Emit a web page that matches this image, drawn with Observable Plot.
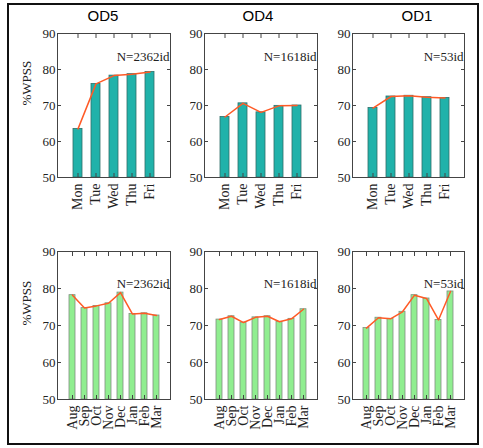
<!DOCTYPE html>
<html>
<head>
<meta charset="utf-8">
<script src="https://cdn.jsdelivr.net/npm/d3@7"></script>
<script src="https://cdn.jsdelivr.net/npm/@observablehq/plot@0.6"></script>
<style>
  html, body { margin: 0; padding: 0; background: #fff; }
  #fig { position: relative; width: 483px; height: 448px; overflow: hidden; background: #fff; }
  #border { position: absolute; left: 7px; top: 3px; width: 472px; height: 442px; border: 2px solid #111; box-sizing: border-box; }
  .panel { position: absolute; }
  .panel svg, .panel svg text, .panel svg g { font-family: "Liberation Serif", "Times New Roman", serif !important; }
  .title { position: absolute; font-family: "Liberation Sans", Arial, sans-serif; font-size: 15px; font-weight: normal; color: #000; transform: translateX(-50%); white-space: nowrap; }
</style>
</head>
<body>
<div id="fig"><div id="border"></div></div>
<script>
// ---- data ----
const weekdays = ["Mon", "Tue", "Wed", "Thu", "Fri"];
const months = ["Aug", "Sep", "Oct", "Nov", "Dec", "Jan", "Feb", "Mar"];
const groups = ["OD5", "OD4", "OD1"];
const counts = ["N=2362id", "N=1618id", "N=53id"];
const yTicks = [50, 60, 70, 80, 90];
const od5Week = [63.5, 76.0, 78.3, 78.7, 79.3];
const od4Week = [66.8, 70.6, 68.1, 69.9, 70.0];
const od1Week = [69.3, 72.5, 72.7, 72.3, 72.1];
const od5Month = [78.2, 74.7, 75.3, 76.0, 78.9, 73.1, 73.3, 72.7];
const od4Month = [71.6, 72.5, 70.8, 72.2, 72.5, 71.0, 71.8, 74.4];
const od1Month = [69.3, 72.1, 71.8, 73.7, 78.2, 77.3, 71.5, 79.2];
const yLabel = "%WPSS";

const fig = document.getElementById("fig");
const ML = 40, MR = 12, MT = 10, MB = 48;
const serif = "Liberation Serif";

function panel({cats, vals, fill, edge, count, showY, left, top, frameW, frameH, countDy}) {
  const data = cats.map((c, i) => ({cat: c, v: vals[i]}));
  const marks = [
    Plot.barY(data, {x: "cat", y1: 50, y2: "v", fill: fill, stroke: edge, strokeWidth: 0.8}),
    Plot.lineY(data, {x: "cat", y: "v", stroke: "#ff5a26", strokeWidth: 1.5}),
    Plot.frame({stroke: "#444", strokeWidth: 1}),
    // labels
    Plot.axisY({ticks: yTicks, tickSize: 0, tickPadding: 2, fontSize: 13, fontFamily: serif, label: null, fill: "#222"}),
    Plot.axisX({tickSize: 0, tickPadding: 6, tickRotate: -90, fontSize: 14, fontFamily: serif, label: null, fill: "#222"}),
    // inward ticks
    Plot.axisY({ticks: yTicks, tickSize: 4, dx: 4, tickFormat: () => "", label: null, stroke: "#444"}),
    Plot.axisY({anchor: "right", ticks: yTicks, tickSize: 4, dx: -4, tickFormat: () => "", label: null, stroke: "#444"}),
    Plot.axisX({tickSize: 4, dy: -4, tickFormat: () => "", label: null, stroke: "#444"}),
    Plot.axisX({anchor: "top", tickSize: 4, dy: 4, tickFormat: () => "", label: null, stroke: "#444"}),
    Plot.text([count], {frameAnchor: "top-right", text: d => d, textAnchor: "end", dy: countDy, dx: -1, fontSize: 13, fontFamily: serif, fill: "#222"})
  ];
  if (showY) {
    marks.push(Plot.text([yLabel], {frameAnchor: "left", text: d => d, rotate: -90, dx: -31, fontSize: 13, fontFamily: serif, fill: "#222"}));
  }
  const chart = Plot.plot({
    width: ML + frameW + MR,
    height: MT + frameH + MB,
    marginLeft: ML, marginRight: MR, marginTop: MT, marginBottom: MB,
    style: {fontFamily: serif, color: "#222", background: "transparent", overflow: "visible"},
    x: {type: "band", domain: cats, paddingInner: 0.5, paddingOuter: 0.75, axis: null},
    y: {domain: [50, 90], axis: null},
    marks
  });
  const wrap = document.createElement("div");
  wrap.className = "panel";
  wrap.style.left = (left - ML) + "px";
  wrap.style.top = (top - MT) + "px";
  wrap.appendChild(chart);
  fig.appendChild(wrap);
}

const frameLefts = [57, 204, 352];
const frameWs = [113, 113, 112];
const weekVals = [od5Week, od4Week, od1Week];
const monthVals = [od5Month, od4Month, od1Month];
const titleX = [103, 258, 417];

for (let i = 0; i < 3; i++) {
  panel({cats: weekdays, vals: weekVals[i], fill: "#20b2aa", edge: "#2f6e69", count: counts[i],
         showY: i === 0, left: frameLefts[i], top: 33, frameW: frameWs[i], frameH: 144, countDy: 18});
  panel({cats: months, vals: monthVals[i], fill: "#90ee90", edge: "#7f8f7f", count: counts[i],
         showY: i === 0, left: frameLefts[i], top: 251, frameW: frameWs[i], frameH: 148, countDy: 27});
  const t = document.createElement("div");
  t.className = "title";
  t.textContent = groups[i];
  t.style.left = titleX[i] + "px";
  t.style.top = "7px";
  fig.appendChild(t);
}
</script>
</body>
</html>
